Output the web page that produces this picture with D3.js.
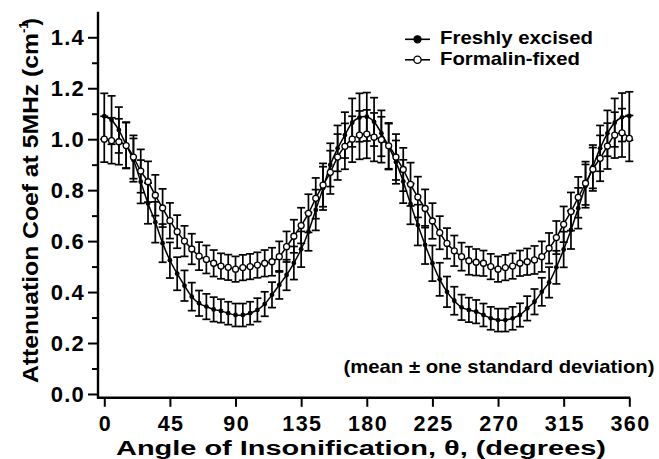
<!DOCTYPE html>
<html lang="en">
    <head>
        <meta charset="utf-8">
        <title>Attenuation vs angle</title>
        <script type="text/javascript" src="https://cdn.jsdelivr.net/npm/d3@7"></script>
        <style type="text/css">
            body { margin: 0; background: #fff; }
            text { font-family: "Liberation Sans", Arial, Helvetica, sans-serif; font-weight: bold; fill: #000; }
            .axis path { display: none; }
            .axis line { stroke: #000; stroke-width: 2px; }
        </style>
    </head>
    <body>
        <script type="text/javascript">
            //Chart size
            var w = 659;
            var h = 459;

            //Angles, every 5 degrees from 0 to 360
            var angles = [0, 5, 10, 15, 20, 25, 30, 35, 40, 45, 50, 55, 60, 65, 70, 75, 80, 85,
                          90, 95, 100, 105, 110, 115, 120, 125, 130, 135, 140, 145, 150, 155, 160, 165, 170, 175,
                          180, 185, 190, 195, 200, 205, 210, 215, 220, 225, 230, 235, 240, 245, 250, 255, 260, 265,
                          270, 275, 280, 285, 290, 295, 300, 305, 310, 315, 320, 325, 330, 335, 340, 345, 350, 355, 360];

            //Freshly excised: mean and standard deviation
            var freshMean = [1.090, 1.075, 1.036, 0.977, 0.918, 0.833, 0.748, 0.674, 0.592, 0.525, 0.472, 0.425, 0.382, 0.356, 0.343, 0.332, 0.326, 0.317,
                             0.310, 0.310, 0.317, 0.330, 0.353, 0.389, 0.428, 0.467, 0.514, 0.568, 0.637, 0.722, 0.807, 0.899, 0.964, 1.016, 1.065, 1.085,
                             1.088, 1.068, 1.023, 0.971, 0.910, 0.834, 0.746, 0.663, 0.585, 0.513, 0.450, 0.401, 0.366, 0.340, 0.330, 0.323, 0.310, 0.297,
                             0.290, 0.290, 0.297, 0.310, 0.336, 0.362, 0.401, 0.438, 0.497, 0.567, 0.644, 0.729, 0.816, 0.892, 0.964, 1.023, 1.065, 1.086, 1.091];
            var freshSD = [0.090, 0.095, 0.090, 0.090, 0.085, 0.085, 0.080, 0.080, 0.075, 0.070, 0.065, 0.060, 0.055, 0.050, 0.050, 0.048, 0.046, 0.045,
                           0.045, 0.045, 0.045, 0.046, 0.048, 0.050, 0.055, 0.060, 0.065, 0.070, 0.075, 0.080, 0.085, 0.085, 0.090, 0.090, 0.095, 0.095,
                           0.095, 0.095, 0.090, 0.090, 0.085, 0.085, 0.080, 0.080, 0.075, 0.070, 0.065, 0.060, 0.055, 0.050, 0.048, 0.046, 0.045, 0.045,
                           0.045, 0.045, 0.045, 0.046, 0.048, 0.050, 0.055, 0.060, 0.065, 0.070, 0.075, 0.080, 0.085, 0.085, 0.090, 0.090, 0.095, 0.095, 0.095];

            //Formalin-fixed: mean and standard deviation
            var fixedMean = [1.000, 0.994, 0.990, 0.975, 0.930, 0.875, 0.833, 0.780, 0.730, 0.680, 0.637, 0.600, 0.569, 0.541, 0.528, 0.513, 0.502, 0.497,
                             0.490, 0.496, 0.500, 0.506, 0.513, 0.519, 0.539, 0.578, 0.619, 0.661, 0.709, 0.768, 0.820, 0.870, 0.930, 0.972, 1.000, 1.016,
                             1.020, 1.008, 0.998, 0.974, 0.930, 0.881, 0.823, 0.773, 0.728, 0.679, 0.633, 0.591, 0.562, 0.539, 0.523, 0.517, 0.513, 0.500,
                             0.490, 0.496, 0.502, 0.513, 0.519, 0.526, 0.539, 0.572, 0.614, 0.666, 0.716, 0.772, 0.827, 0.882, 0.925, 0.973, 1.016, 1.025, 1.003];
            var fixedSD = [0.090, 0.090, 0.090, 0.090, 0.085, 0.085, 0.080, 0.080, 0.075, 0.070, 0.065, 0.060, 0.060, 0.055, 0.055, 0.052, 0.050, 0.050,
                           0.050, 0.050, 0.050, 0.050, 0.052, 0.055, 0.060, 0.060, 0.065, 0.070, 0.075, 0.080, 0.085, 0.085, 0.090, 0.090, 0.090, 0.095,
                           0.095, 0.095, 0.090, 0.090, 0.090, 0.085, 0.085, 0.080, 0.075, 0.070, 0.065, 0.060, 0.060, 0.055, 0.055, 0.052, 0.050, 0.050,
                           0.050, 0.050, 0.050, 0.050, 0.052, 0.055, 0.060, 0.060, 0.065, 0.070, 0.075, 0.080, 0.085, 0.085, 0.090, 0.090, 0.090, 0.095, 0.090];

            //Tick values
            var xTicks = [0, 45, 90, 135, 180, 225, 270, 315, 360];
            var yTicks = [0.0, 0.2, 0.4, 0.6, 0.8, 1.0, 1.2, 1.4];
            var yMinorTicks = [0.1, 0.3, 0.5, 0.7, 0.9, 1.1, 1.3];

            var seriesNames = ["Freshly excised", "Formalin-fixed"];

            //Build series objects
            var fresh = angles.map(function(a, i) { return {a: a, m: freshMean[i], sd: freshSD[i]}; });
            var fixed = angles.map(function(a, i) { return {a: a, m: fixedMean[i], sd: fixedSD[i]}; });

            var svg = d3.select("body")
                        .append("svg")
                        .attr("width", w)
                        .attr("height", h);

            //Scales (domains run a bit past 0 so the axes meet below/left of the zero ticks)
            var xScale = d3.scaleLinear()
                            .domain([-4.3, 360])
                            .range([98, 629.3]);

            var yScale = d3.scaleLinear()
                            .domain([-0.015, 1.5])
                            .range([397.8, 11.8]);

            //Axes
            var xAxis = d3.axisBottom(xScale)
                            .tickValues(xTicks)
                            .tickSize(9)
                            .tickFormat(d3.format("d"));

            var yAxis = d3.axisLeft(yScale)
                            .tickValues(yTicks)
                            .tickSize(10)
                            .tickPadding(3)
                            .tickFormat(d3.format(".1f"));

            var yMinor = d3.axisLeft(yScale)
                            .tickValues(yMinorTicks)
                            .tickSize(6)
                            .tickFormat("");

            var gx = svg.append("g")
                .attr("class", "axis")
                .attr("transform", "translate(0," + yScale(-0.015) + ")")
                .call(xAxis);
            gx.selectAll("text")
                .attr("font-size", "21.5px")
                .attr("letter-spacing", "1.4px")
                .attr("y", 33)
                .attr("dy", 0)
                .attr("dx", "0.7px");

            var gy = svg.append("g")
                .attr("class", "axis")
                .attr("transform", "translate(" + xScale(-4.3) + ",0)")
                .call(yAxis);
            gy.selectAll("text")
                .attr("font-size", "22px")
                .attr("letter-spacing", "1.2px")
                .attr("dy", "0.34em");

            svg.append("g")
                .attr("class", "axis")
                .attr("transform", "translate(" + xScale(-4.3) + ",0)")
                .call(yMinor);

            //Axis lines drawn by hand
            svg.append("line")
                .attr("x1", xScale(-4.3)).attr("x2", xScale(-4.3))
                .attr("y1", yScale(1.5)).attr("y2", yScale(-0.015) + 1)
                .attr("stroke", "#000").attr("stroke-width", 2.4);
            svg.append("line")
                .attr("x1", xScale(-4.3) - 1).attr("x2", xScale(360) + 1)
                .attr("y1", yScale(-0.015)).attr("y2", yScale(-0.015))
                .attr("stroke", "#000").attr("stroke-width", 2.4);

            //Error bars for both series
            function drawErrors(data, cls) {
                var g = svg.append("g").attr("class", cls);
                var cap = 4;
                g.selectAll("line.v")
                    .data(data)
                    .enter()
                    .append("line")
                    .attr("x1", function(d) { return xScale(d.a); })
                    .attr("x2", function(d) { return xScale(d.a); })
                    .attr("y1", function(d) { return yScale(d.m - d.sd); })
                    .attr("y2", function(d) { return yScale(d.m + d.sd); });
                g.selectAll("line.t")
                    .data(data)
                    .enter()
                    .append("line")
                    .attr("x1", function(d) { return xScale(d.a) - cap; })
                    .attr("x2", function(d) { return xScale(d.a) + cap; })
                    .attr("y1", function(d) { return yScale(d.m + d.sd); })
                    .attr("y2", function(d) { return yScale(d.m + d.sd); });
                g.selectAll("line.b")
                    .data(data)
                    .enter()
                    .append("line")
                    .attr("x1", function(d) { return xScale(d.a) - cap; })
                    .attr("x2", function(d) { return xScale(d.a) + cap; })
                    .attr("y1", function(d) { return yScale(d.m - d.sd); })
                    .attr("y2", function(d) { return yScale(d.m - d.sd); });
                g.selectAll("line")
                    .attr("stroke", "#000")
                    .attr("stroke-width", 1.7);
            }
            drawErrors(fresh, "err-fresh");
            drawErrors(fixed, "err-fixed");

            //Lines through the means
            var line = d3.line()
                .x(function(d) { return xScale(d.a); })
                .y(function(d) { return yScale(d.m); })
                .curve(d3.curveCatmullRom);

            svg.append("path")
                .datum(fresh)
                .attr("d", line)
                .attr("fill", "none")
                .attr("stroke", "#000")
                .attr("stroke-width", 1.5);

            svg.append("path")
                .datum(fixed)
                .attr("d", line)
                .attr("fill", "none")
                .attr("stroke", "#000")
                .attr("stroke-width", 1.5);

            //Markers
            svg.selectAll("circle.fresh")
                .data(fresh)
                .enter()
                .append("circle")
                .attr("class", "fresh")
                .attr("cx", function(d) { return xScale(d.a); })
                .attr("cy", function(d) { return yScale(d.m); })
                .attr("r", 2.4)
                .attr("fill", "#000");

            svg.selectAll("circle.fixed")
                .data(fixed)
                .enter()
                .append("circle")
                .attr("class", "fixed")
                .attr("cx", function(d) { return xScale(d.a); })
                .attr("cy", function(d) { return yScale(d.m); })
                .attr("r", 3)
                .attr("fill", "#fff")
                .attr("stroke", "#000")
                .attr("stroke-width", 1.3);

            //Legend
            var legend = svg.append("g").attr("class", "legend");
            seriesNames.forEach(function(name, i) {
                var ly = 39.3 + i * 20.5;
                legend.append("line")
                    .attr("x1", 405).attr("x2", 430)
                    .attr("y1", ly).attr("y2", ly)
                    .attr("stroke", "#000").attr("stroke-width", 1.6);
                legend.append("circle")
                    .attr("cx", 417.5).attr("cy", ly)
                    .attr("r", i === 0 ? 3.5 : 3.6)
                    .attr("fill", i === 0 ? "#000" : "#fff")
                    .attr("stroke", "#000").attr("stroke-width", 1.3);
                legend.append("text")
                    .attr("x", 440).attr("y", ly + 4.8)
                    .attr("font-size", "18.5px")
                    .attr("textLength", i === 0 ? 153 : 140)
                    .attr("lengthAdjust", "spacingAndGlyphs")
                    .text(name);
            });

            //Note
            svg.append("text")
                .attr("x", 343.5).attr("y", 373.3)
                .attr("font-size", "18.5px")
                .attr("textLength", 311)
                .attr("lengthAdjust", "spacingAndGlyphs")
                .text("(mean \u00b1 one standard deviation)");

            //Axis titles
            svg.append("text")
                .attr("x", 116).attr("y", 454.6)
                .attr("font-size", "20px")
                .attr("textLength", 490)
                .attr("lengthAdjust", "spacingAndGlyphs")
                .text("Angle of Insonification, \u03b8, (degrees)");

            //Y title in three pieces so each part can be placed along the axis
            svg.append("text")
                .attr("transform", "translate(37.5,383) rotate(-90)")
                .attr("font-size", "22px")
                .attr("textLength", 350)
                .attr("lengthAdjust", "spacingAndGlyphs")
                .text("Attenuation Coef at 5MHz (cm");
            svg.append("text")
                .attr("transform", "translate(27.5,33) rotate(-90)")
                .attr("font-size", "13px")
                .text("-1");
            svg.append("text")
                .attr("transform", "translate(37.5,25.5) rotate(-90)")
                .attr("font-size", "22px")
                .text(")");
        </script>
    </body>
</html>
